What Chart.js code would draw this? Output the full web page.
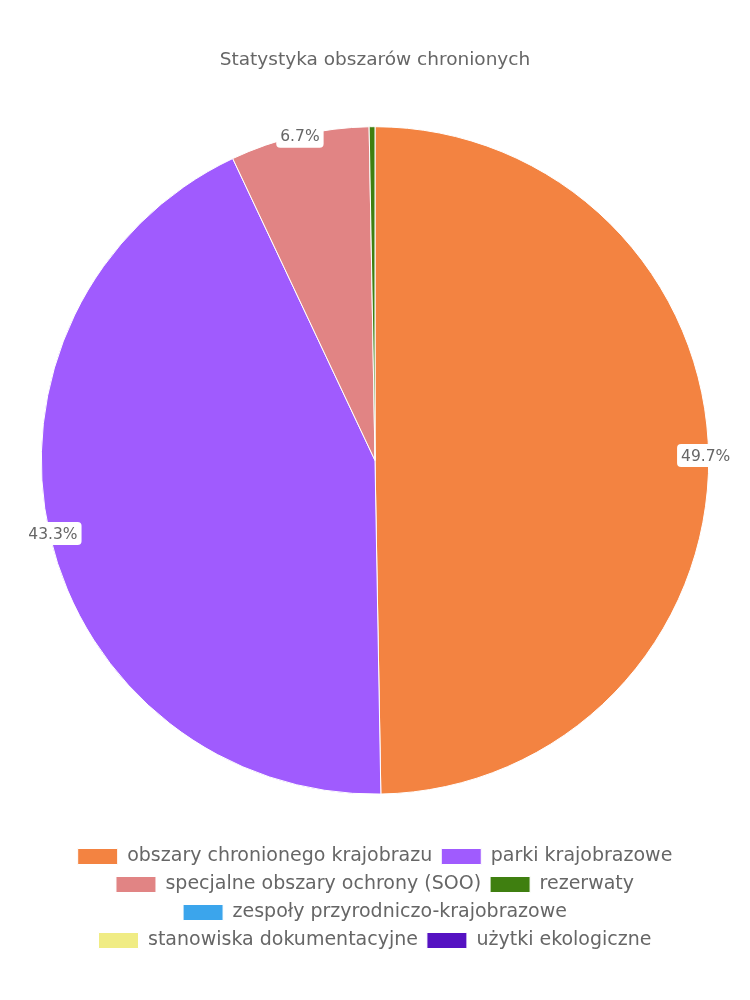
<!DOCTYPE html>
<html>
<head>
<meta charset="utf-8">
<script src="https://cdn.jsdelivr.net/npm/chart.js@4/dist/chart.umd.min.js"></script>
<style>
    html, body { margin: 0; padding: 0; background: #fff; }
    #wrap { width: 750px; height: 1000px; }
</style>
</head>
<body>
<div id="wrap"><canvas id="pieChart"></canvas></div>
<script>
    const categories = [
        'obszary chronionego krajobrazu',
        'parki krajobrazowe',
        'specjalne obszary ochrony (SOO)',
        'rezerwaty',
        'zespoły przyrodniczo-krajobrazowe',
        'stanowiska dokumentacyjne',
        'użytki ekologiczne'
    ];
    const shares = [49.72, 43.27, 6.73, 0.28, 0, 0, 0];
    const colors = ['#f38341', '#a05bfe', '#e18484', '#3f7f10', '#3ba5ec', '#f0ec84', '#5512c2'];

    const FONT = '"DejaVu Sans", sans-serif';

    // percentage labels sitting on the outer edge of each slice
    const edgeLabels = {
        id: 'edgeLabels',
        afterDatasetsDraw(chart) {
            const ctx = chart.ctx;
            const meta = chart.getDatasetMeta(0);
            const total = shares.reduce((a, b) => a + b, 0);
            ctx.save();
            ctx.font = '15.5px ' + FONT;
            ctx.textAlign = 'center';
            ctx.textBaseline = 'middle';
            meta.data.forEach((arc, i) => {
                const pct = shares[i] / total * 100;
                if (pct < 1) return;
                const mid = (arc.startAngle + arc.endAngle) / 2;
                const x = arc.x + Math.cos(mid) * (arc.outerRadius - 3);
                const y = arc.y + Math.sin(mid) * (arc.outerRadius - 3) - 2;
                const txt = pct.toFixed(1) + '%';
                const w = ctx.measureText(txt).width + 8;
                const h = 23;
                ctx.fillStyle = '#fff';
                ctx.beginPath();
                ctx.roundRect(x - w / 2, y - h / 2, w, h, 4);
                ctx.fill();
                ctx.fillStyle = '#666';
                ctx.fillText(txt, x, y + 1);
            });
            ctx.restore();
        }
    };

    new Chart(document.getElementById('pieChart'), {
        type: 'pie',
        data: {
            labels: categories,
            datasets: [{
                data: shares,
                backgroundColor: colors,
                borderColor: '#fff',
                borderWidth: 1
            }]
        },
        options: {
            responsive: true,
            maintainAspectRatio: false,
            animation: false,
            layout: { padding: { top: 10, bottom: 40, left: 20, right: 20 } },
            plugins: {
                title: {
                    display: true,
                    text: 'Statystyka obszarów chronionych',
                    color: '#666',
                    font: { family: FONT, size: 18.5, weight: 'normal' },
                    padding: { top: 39, bottom: 55 }
                },
                legend: {
                    position: 'bottom',
                    title: {
                        display: true,
                        text: ' ',
                        font: { size: 12 },
                        padding: { top: 29, bottom: 0 }
                    },
                    labels: {
                        color: '#666',
                        boxWidth: 40,
                        boxHeight: 16,
                        padding: 9,
                        font: { family: FONT, size: 19 }
                    }
                },
                tooltip: { enabled: false }
            }
        },
        plugins: [edgeLabels]
    });
</script>
</body>
</html>
